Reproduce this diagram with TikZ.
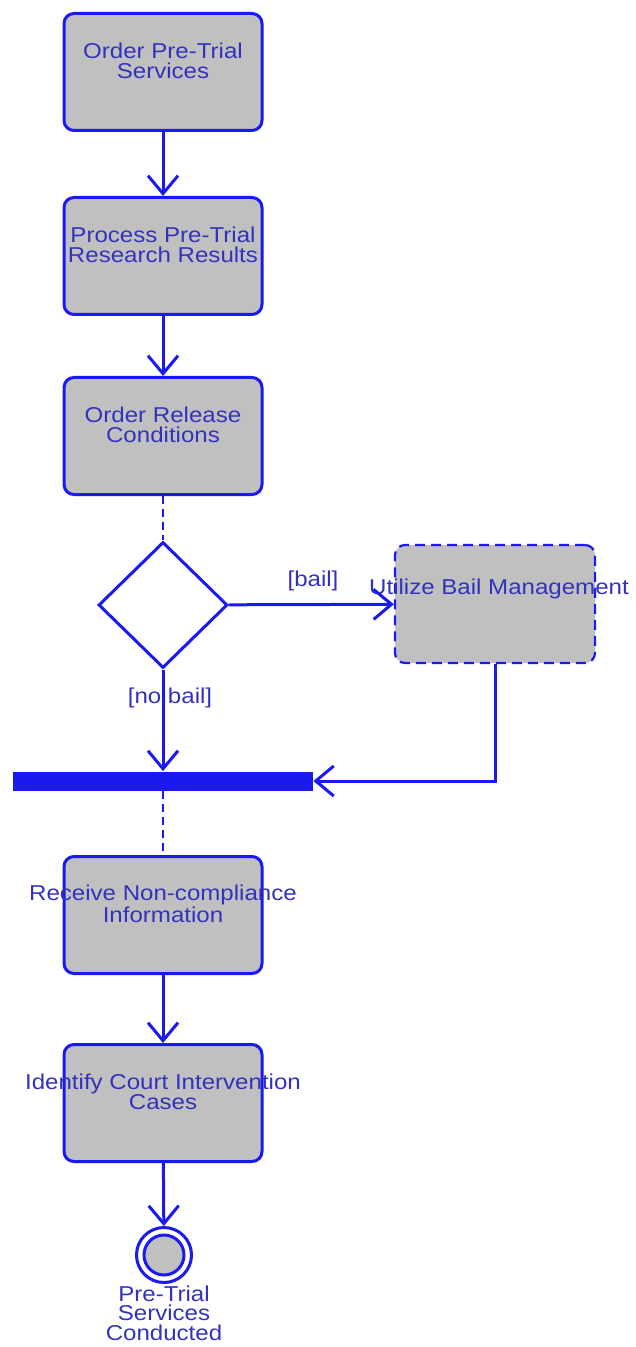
\documentclass[tikz,border=0pt]{standalone}
\usepackage{fontspec}
\newfontfamily\diagfont[FakeStretch=1.12]{Liberation Sans}
\usetikzlibrary{arrows.meta,shapes.geometric}
\definecolor{umlblue}{RGB}{25,25,240}
\definecolor{umltext}{RGB}{50,50,190}
\definecolor{umlgray}{RGB}{192,192,192}

\begin{document}
\begin{tikzpicture}[x=0.5pt, y=-0.5pt,
    txt/.style={font=\diagfont\fontsize{10.75pt}{9.75pt}\selectfont, text=umltext, align=center, inner sep=0pt},
    action/.style={draw=umlblue, fill=umlgray, line width=1.5pt, rounded corners=5pt,
        minimum width=99pt, minimum height=58.5pt, inner sep=0pt,
        label={[txt, yshift=5.5pt]center:{#1}}},
    flow/.style={draw=umlblue, line width=1.5pt, -{Straight Barb[length=9pt, width=15pt, line width=1.5pt]}},
    link/.style={draw=umlblue, line width=0.75pt, dash pattern=on 4pt off 2.5pt}]
    % frame
    \useasboundingbox (0,0) rectangle (636,1347);
    % actions
    \node[action={Order Pre-Trial\\Services}] (order) at (163,72) {};
    \node[action={Process Pre-Trial\\Research Results}] (process) at (163,256) {};
    \node[action={Order Release\\Conditions}] (release) at (163,436) {};
    % decision and bail branch
    \node[diamond, draw=umlblue, fill=white, line width=1.5pt, inner sep=0pt,
        minimum width=64.5pt, minimum height=63pt] (choice) at (163,605) {};
    \node[draw=umlblue, fill=umlgray, line width=1.1pt, rounded corners=5pt,
        dash pattern=on 5pt off 3pt,
        minimum width=100pt, minimum height=59pt, inner sep=0pt] (bail) at (495,604) {};
    \node[txt] (bailtxt) at (499,589) {Utilize Bail Management};
    % join bar
    \node[fill=umlblue, minimum width=150pt, minimum height=9.5pt, inner sep=0pt] (join) at (163,781) {};
    % later actions
    \node[action={Receive Non-compliance\\Information}] (receive) at (163,915) {};
    \node[action={Identify Court Intervention\\Cases}] (identify) at (163,1103) {};
    % final state
    \node[circle, draw=umlblue, fill=white, line width=1.5pt, minimum size=27.5pt, inner sep=0pt] (final) at (164,1255) {};
    \node[circle, draw=umlblue, fill=umlgray, line width=1.5pt, minimum size=20pt, inner sep=0pt] (finalin) at (final.center) {};
    \node[txt] (finaltxt) at (164,1313) {Pre-Trial\\Services\\Conducted};
    % connectors
    \draw[flow] (order) -- (process);
    \draw[flow] (process) -- (release);
    \draw[link] (release) -- (choice);
    \draw[flow] (choice) -- (bail) node[txt, pos=0.51, above=6pt] (yes) {[bail]};
    \draw[flow] (choice) -- (join) node[txt, pos=0.28, xshift=3.5pt] (no) {[no bail]};
    \draw[flow] (bail.south) |- (join.east);
    \draw[link] (join) -- (receive);
    \draw[flow] (receive) -- (identify);
    \draw[flow] (identify) -- (final);
\end{tikzpicture}
\end{document}
